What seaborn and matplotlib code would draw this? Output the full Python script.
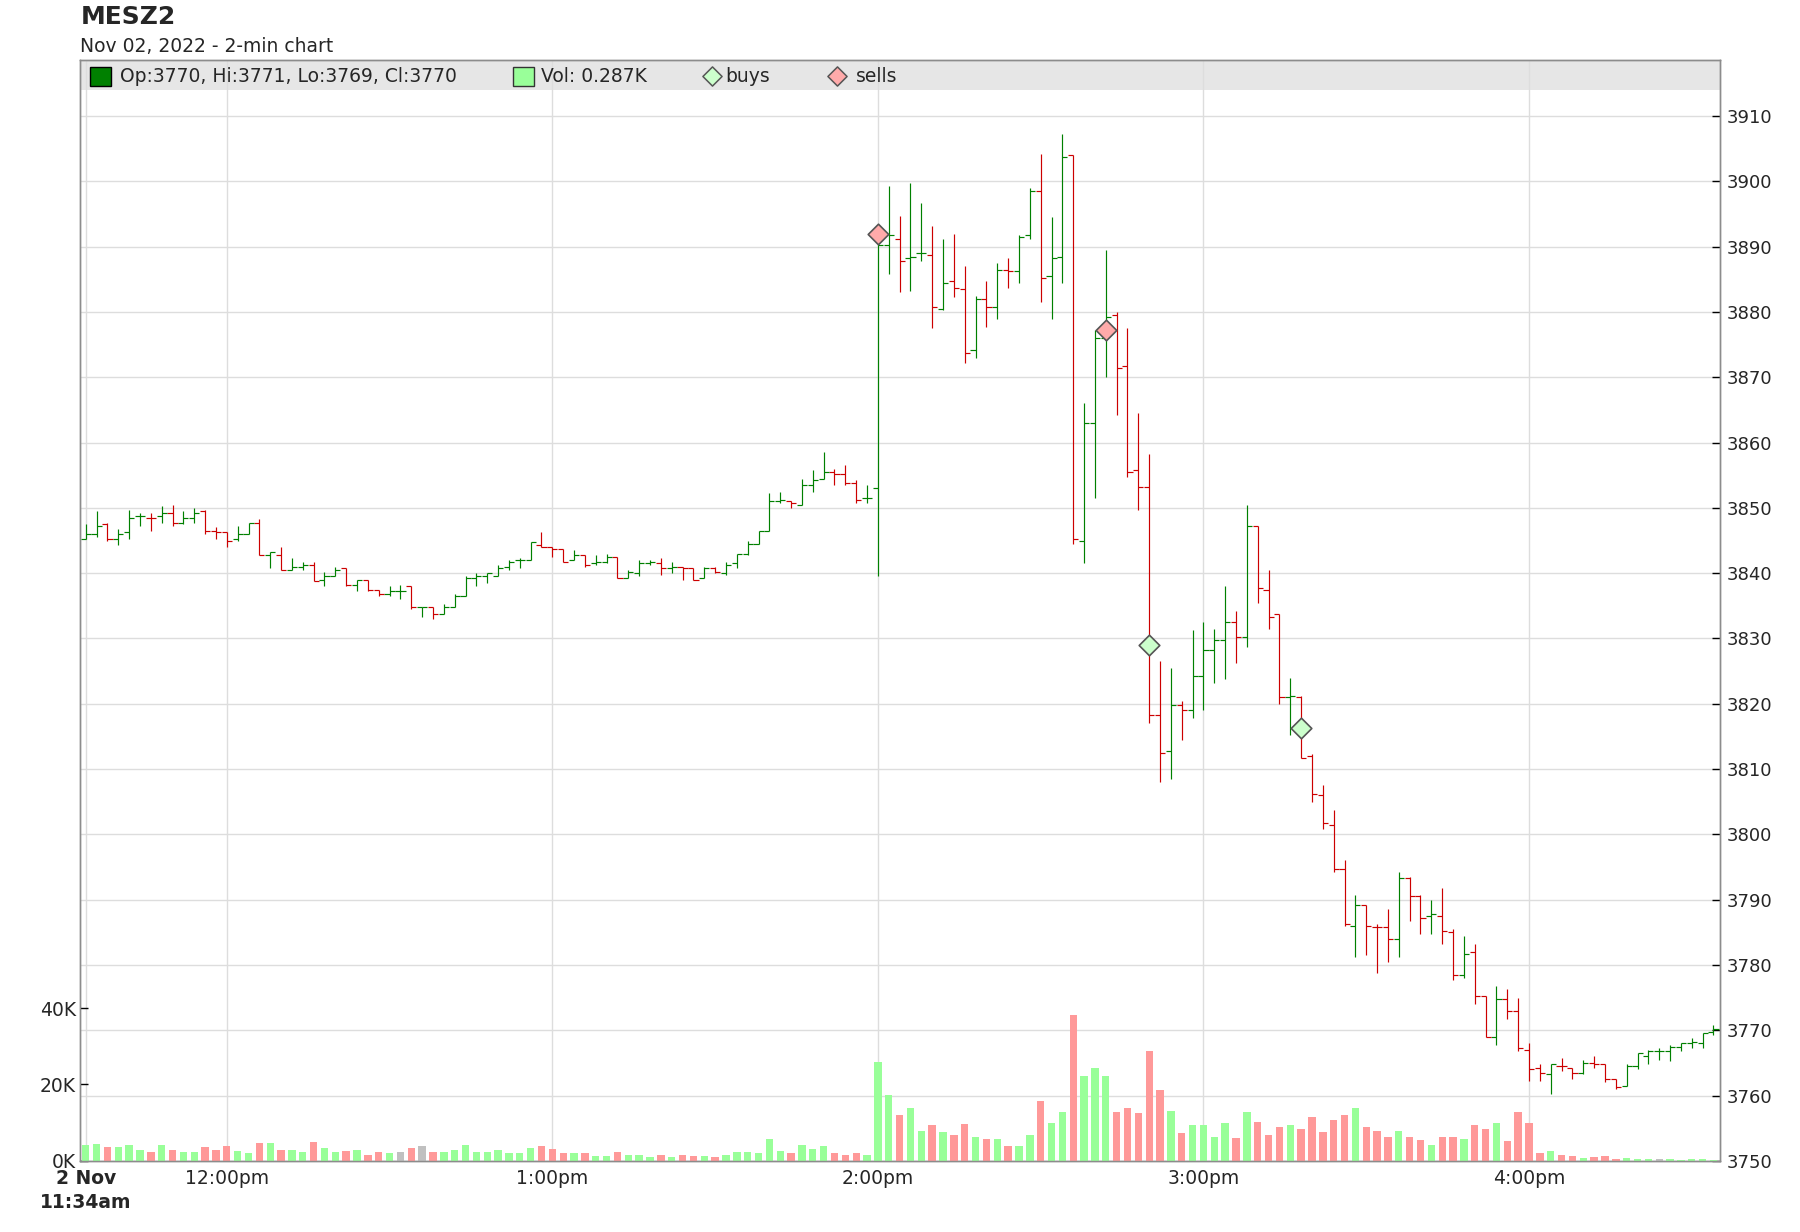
import numpy as np
import pandas as pd
import matplotlib
matplotlib.use("Agg")
import matplotlib.pyplot as plt
import seaborn as sns
from matplotlib.patches import Rectangle

# ---------------- data ----------------
opens = [3845.25, 3846, 3847.5, 3845.25, 3846.25, 3848.75, 3848.5, 3848.75, 3849.25, 3847.75,
         3848.5, 3849.5, 3846.5, 3846.25, 3845.25, 3846, 3847.75, 3842.75, 3842.75, 3840.5,
         3841, 3841.25, 3839, 3839.5, 3840.75, 3838.25, 3839, 3837.5, 3836.75, 3837.25,
         3838, 3834.75, 3834.75, 3833.75, 3834.75, 3836.5, 3839.25, 3839.5, 3839.5, 3841,
         3842, 3842, 3844.25, 3844, 3843.75, 3842, 3842.75, 3841.5, 3841.75, 3842.5,
         3839.25, 3840, 3841.5, 3841.5, 3840.75, 3841, 3840.75, 3839.25, 3840.75, 3840,
         3841.5, 3843, 3844.5, 3846.5, 3851, 3851, 3850.5, 3853.5, 3854.5, 3855.5,
         3855.25, 3853.75, 3851.5, 3853, 3890.25, 3891.25, 3888.25, 3889, 3888.75, 3880.5,
         3884.75, 3883.5, 3874.25, 3882, 3880.75, 3886.5, 3886.25, 3891.75, 3898.5, 3885.5,
         3888.5, 3904, 3845, 3863, 3876, 3879.5, 3871.75, 3855.75, 3853.25, 3818.25,
         3812.75, 3819.75, 3819, 3824.25, 3828.25, 3829.75, 3832.5, 3830.25, 3847.25, 3837.5,
         3833.75, 3821, 3821, 3812, 3806, 3801.5, 3794.75, 3786, 3789.25, 3785.75,
         3785.75, 3784, 3793.25, 3790.5, 3787.5, 3787.5, 3785, 3778.5, 3782, 3775.25,
         3769, 3774.75, 3773, 3767, 3764.25, 3763.25, 3764.5, 3764.25, 3763.5, 3765,
         3764.75, 3762.5, 3761.5, 3764.5, 3766, 3766.75, 3766.75, 3767.5, 3768, 3768,
         3769.75]
highs = [3847.5, 3849.5, 3847.75, 3846.75, 3849.75, 3849.25, 3849.25, 3850.25, 3850.5, 3849.5,
         3850, 3849.75, 3847, 3846.25, 3847.25, 3847.75, 3848.25, 3843.25, 3844, 3842.25,
         3841.75, 3841.75, 3840.25, 3841, 3840.75, 3839, 3839, 3837.5, 3838, 3838.25,
         3838, 3834.75, 3834.75, 3835.25, 3836.75, 3839.5, 3840, 3840, 3841.25, 3842,
         3842.25, 3844.75, 3846.25, 3844, 3843.75, 3843.5, 3842.75, 3842.75, 3843, 3842.5,
         3840.5, 3842, 3842, 3842.25, 3841.75, 3841, 3840.75, 3841, 3841, 3841.75,
         3843, 3845, 3846.5, 3852.25, 3852.5, 3851, 3854.5, 3855.75, 3858.5, 3856,
         3856.5, 3854.25, 3853.5, 3892.5, 3899.25, 3894.75, 3899.75, 3896.75, 3893.25, 3891.25,
         3892, 3887, 3882.5, 3884.75, 3887.5, 3888.25, 3891.75, 3899, 3904.25, 3894.5,
         3907.25, 3904, 3866, 3877.25, 3889.5, 3880, 3877.5, 3864.5, 3858.25, 3826.5,
         3825.5, 3820.5, 3831.25, 3832.5, 3831.5, 3838, 3834.25, 3850.5, 3847.25, 3840.5,
         3833.75, 3824, 3821.25, 3812.25, 3807.5, 3803.75, 3796, 3790.75, 3789.25, 3786.25,
         3788.5, 3794.25, 3793.5, 3790.75, 3790, 3791.75, 3785.5, 3784.5, 3783.25, 3775.25,
         3776.75, 3776.25, 3775, 3768, 3764.75, 3764.75, 3765.75, 3764.25, 3765.5, 3766,
         3764.75, 3762.5, 3764.75, 3766.5, 3767, 3767.25, 3767.75, 3768, 3768.75, 3769.5,
         3770.75]
lows = [3845.25, 3845.5, 3845, 3844.25, 3845.25, 3847.25, 3846.5, 3847.75, 3847.25, 3847.5,
        3847.75, 3846, 3845.25, 3844, 3845, 3846, 3842.75, 3840.75, 3840.5, 3840.5,
        3840.5, 3838.75, 3838, 3839.5, 3838, 3837.25, 3837.25, 3836.5, 3836.5, 3836,
        3834.5, 3833.25, 3833, 3833.75, 3834.75, 3836.5, 3838, 3838.5, 3839.5, 3840.5,
        3840.75, 3842, 3844, 3842.5, 3841.75, 3842, 3841, 3841.25, 3841.5, 3839.25,
        3839.25, 3839.5, 3841.25, 3839.75, 3840, 3839, 3839, 3839.25, 3840, 3839.75,
        3840.75, 3842.75, 3844.5, 3846.5, 3850.75, 3850, 3850.5, 3852.5, 3854.5, 3853.5,
        3853.5, 3850.75, 3850.75, 3839.5, 3885.75, 3883, 3883.25, 3887.75, 3877.5, 3880.25,
        3882.25, 3872.25, 3873, 3877.75, 3879, 3883.75, 3884.5, 3891.25, 3881.5, 3879,
        3884.5, 3844.5, 3841.5, 3851.5, 3870, 3864.25, 3854.75, 3849.75, 3817, 3808,
        3808.5, 3814.5, 3817.75, 3819, 3823.25, 3823.75, 3826.25, 3828.75, 3835.5, 3831.5,
        3820, 3815.25, 3811.75, 3805, 3800.75, 3794.25, 3786, 3781.25, 3781.5, 3778.75,
        3780.5, 3781.25, 3786.75, 3784.75, 3784.75, 3783.25, 3777.75, 3778, 3774, 3769,
        3767.75, 3771.75, 3766.75, 3762.25, 3762.25, 3760.25, 3763.75, 3762.5, 3763.25, 3764.25,
        3762, 3761, 3761.5, 3764, 3764.75, 3765.5, 3765.25, 3766.75, 3767.25, 3767.25,
        3769.25]
closes = [3846, 3847.25, 3845.25, 3846, 3848.5, 3848.75, 3848.5, 3849.25, 3847.75, 3848.5,
          3849.25, 3846.5, 3846.25, 3845, 3846, 3847.75, 3842.75, 3843.25, 3840.5, 3841,
          3841.25, 3838.75, 3839.5, 3840.5, 3838.25, 3839, 3837.5, 3836.75, 3837.25, 3837.25,
          3834.75, 3834.75, 3833.75, 3834.75, 3836.5, 3839.25, 3839.5, 3840, 3840.75, 3841.75,
          3842, 3844.75, 3844, 3843.75, 3841.75, 3842.75, 3841.25, 3841.75, 3842.5, 3839.25,
          3840.25, 3841.5, 3841.75, 3840.75, 3841, 3840.75, 3839, 3840.75, 3840.25, 3841.25,
          3843, 3844.5, 3846.5, 3851, 3851.25, 3850.75, 3853.5, 3854.25, 3855.5, 3855.25,
          3853.75, 3851.25, 3851.5, 3890.25, 3891.75, 3887.75, 3888.5, 3889, 3880.75, 3884.5,
          3883.75, 3873.75, 3882, 3880.75, 3886.5, 3886.25, 3891.5, 3898.5, 3885.25, 3888.25,
          3903.75, 3845.25, 3863, 3876, 3879.25, 3871.5, 3855.5, 3853.25, 3818.25, 3812.5,
          3819.75, 3819, 3824.25, 3828.25, 3829.75, 3832.5, 3830.25, 3847.25, 3837.75, 3833.25,
          3821, 3821.25, 3811.75, 3806.25, 3801.75, 3794.75, 3786.25, 3789.25, 3786, 3785.75,
          3784, 3793.25, 3790.5, 3787.25, 3787.75, 3785.25, 3778.5, 3781.75, 3775.25, 3769,
          3774.75, 3773, 3767.25, 3764, 3763.5, 3764.75, 3764.5, 3763.5, 3765, 3764.75,
          3762.5, 3761.25, 3764.5, 3766.5, 3766.75, 3766.75, 3767.5, 3768, 3768.25, 3769.5,
          3770.25]
volumes_k = [4.19, 4.45, 3.49, 3.49, 4.19, 2.88, 2.36, 4.19, 2.88, 2.36,
             2.36, 3.49, 2.88, 3.93, 2.62, 2.10, 4.72, 4.72, 2.88, 2.88,
             2.36, 4.98, 3.41, 2.36, 2.62, 2.88, 1.57, 2.36, 2.10, 2.36,
             3.41, 3.93, 2.36, 2.36, 2.88, 4.19, 2.36, 2.36, 2.88, 2.10,
             2.10, 3.41, 3.93, 3.14, 2.10, 2.10, 2.10, 1.31, 1.31, 2.36,
             1.57, 1.57, 1.05, 1.57, 1.05, 1.57, 1.31, 1.31, 1.05, 1.57,
             2.36, 2.36, 2.10, 5.76, 2.62, 2.10, 4.19, 3.14, 3.93, 2.10,
             1.57, 2.10, 1.57, 25.9, 17.3, 12.05, 13.9, 7.86, 9.43, 7.6,
             6.81, 9.69, 6.29, 5.76, 5.76, 3.93, 3.93, 6.81, 15.7, 9.96,
             12.8, 38.25, 22.3, 24.4, 22.3, 12.8, 13.9, 12.6, 28.8, 18.6,
             13.1, 7.34, 9.43, 9.43, 6.29, 9.96, 6.03, 12.8, 10.2, 6.81,
             8.9, 9.43, 8.38, 11.5, 7.6, 10.7, 12.05, 13.9, 8.9, 7.86,
             6.29, 7.86, 6.29, 5.5, 4.19, 6.29, 6.29, 5.76, 9.43, 8.38,
             9.96, 5.24, 12.8, 9.96, 2.10, 2.62, 1.57, 1.31, 0.79, 1.05,
             1.31, 0.52, 0.79, 0.52, 0.52, 0.52, 0.52, 0.26, 0.52, 0.52,
             0.287]

sell_idx = [73, 94]
sell_price = [3892.0, 3877.25]
buy_idx = [98, 112]
buy_price = [3829.0, 3816.25]

tick_pos = [0, 13, 43, 73, 103, 133]
tick_labels = ["2 Nov\n11:34am", "12:00pm", "1:00pm", "2:00pm", "3:00pm", "4:00pm"]
price_ticks = list(range(3750, 3911, 10))
vol_ticks = [0, 20, 40]
vol_tick_labels = ["0K", "20K", "40K"]
title = "MESZ2"
subtitle = "Nov 02, 2022 - 2-min chart"

# ---------------- styling ----------------
sns.set_theme(style="white")
plt.rcParams['font.family'] = ['DejaVu Sans']

UP, DOWN = '#008000', '#cc0000'
VUP, VDOWN, VFLAT = '#99ff99', '#ff9999', '#c0c0c0'
GRID = '#dddddd'
SPINE = '#8c8c8c'

df = pd.DataFrame({'o': opens, 'h': highs, 'l': lows, 'c': closes, 'v': volumes_k})
df['x'] = np.arange(len(df))
prev = df['c'].shift(1)
df['pcol'] = np.where(prev.isna() | (df['c'] >= prev), UP, DOWN)
df['vcol'] = np.where(prev.isna() | (df['c'] > prev), VUP,
                      np.where(df['c'] == prev, VFLAT, VDOWN))

W, H = 1800, 1232
fig = plt.figure(figsize=(W / 100, H / 100), dpi=100)
left_px, right_px, top_px, bot_px = 80.3, 1720, 60, 1160.8
ax = fig.add_axes([left_px / W, 1 - bot_px / H, (right_px - left_px) / W, (bot_px - top_px) / H])
axv = ax.twinx()

# price axis
ax.set_xlim(-0.5, 150.6)
ax.set_ylim(3750, 3918.6)
ax.set_axisbelow(True)
ax.yaxis.tick_right()
ax.set_yticks(price_ticks)
ax.set_yticklabels([str(p) for p in price_ticks])
ax.set_xticks(tick_pos)
ax.set_xticklabels(tick_labels)
ax.grid(True, color=GRID, linewidth=1.0)
ax.tick_params(axis='y', which='both', direction='in', length=6, width=1, color='black',
               labelsize=13, pad=4.8, right=True, left=False, labelright=True, labelleft=False)
ax.tick_params(axis='x', direction='out', length=3, width=1, color='black', labelsize=13.5, pad=3)
for i, lab in enumerate(ax.get_xticklabels()):
    if i == 0:
        lab.set_fontweight('bold')
        lab.set_linespacing(1.3)

# band
ax.add_patch(Rectangle((0, 1 - 30 / 1100.8), 1, 30 / 1100.8, transform=ax.transAxes,
                       facecolor='#e6e6e6', edgecolor='none', zorder=0.4))

# OHLC bars
tk = 0.47
lw = 0.85
ax.vlines(df['x'], df['l'], df['h'], colors=df['pcol'], linewidth=lw, zorder=3)
ax.hlines(df['o'], df['x'] - tk, df['x'], colors=df['pcol'], linewidth=lw, zorder=3)
ax.hlines(df['c'], df['x'], df['x'] + tk, colors=df['pcol'], linewidth=lw, zorder=3)

# volume axis
axv.set_ylim(0, 288.2)
axv.bar(df['x'], df['v'], width=0.68, color=df['vcol'], linewidth=0, zorder=2)
axv.yaxis.tick_left()
axv.set_yticks(vol_ticks)
axv.set_yticklabels(vol_tick_labels)
axv.tick_params(axis='y', direction='in', length=6, width=1, color='black', labelsize=13.5, pad=3.2,
                left=True, right=False, labelleft=True, labelright=False)
axv.grid(False)

# buy / sell markers
sns.scatterplot(x=sell_idx, y=sell_price, ax=ax, marker='D', s=110, color='#ffaaaa',
                edgecolor='#555555', linewidth=1.2, zorder=6, legend=False)
sns.scatterplot(x=buy_idx, y=buy_price, ax=ax, marker='D', s=110, color='#ccffcc',
                edgecolor='#555555', linewidth=1.2, zorder=6, legend=False)

for a in (ax, axv):
    for s in a.spines.values():
        s.set_color(SPINE)
        s.set_linewidth(1)

# titles
fig.text(80.4 / W, 1 - 16.6 / H, title, fontsize=18, fontweight='bold', va='center', ha='left')
fig.text(80.4 / W, 1 - 46 / H, subtitle, fontsize=13.5, va='center', ha='left')

# legend in band
def fx(px):
    return (px - left_px) / (right_px - left_px)

yc = (bot_px - 76.5) / (bot_px - top_px)
sq_h = 19 / (bot_px - top_px)
last = df.iloc[-1]
ohlc_txt = "Op:{:.0f}, Hi:{:.0f}, Lo:{:.0f}, Cl:{:.0f}".format(last['o'], last['h'], last['l'], last['c'])
vol_txt = "Vol: {:.3f}K".format(last['v'])
axv.add_patch(Rectangle((fx(90), yc - sq_h / 2), fx(110.5) - fx(90), sq_h, transform=axv.transAxes,
                        facecolor=UP, edgecolor='black', linewidth=1, zorder=7, clip_on=False))
axv.text(fx(119.5), yc, ohlc_txt, transform=axv.transAxes, fontsize=13.5, va='center', ha='left', zorder=7)
axv.add_patch(Rectangle((fx(513), yc - sq_h / 2), fx(534) - fx(513), sq_h, transform=axv.transAxes,
                        facecolor=VUP, edgecolor='#333333', linewidth=1, zorder=7, clip_on=False))
axv.text(fx(541), yc, vol_txt, transform=axv.transAxes, fontsize=13.5, va='center', ha='left', zorder=7)
axv.scatter([fx(712)], [yc], transform=axv.transAxes, marker='D', s=95, color='#ccffcc',
            edgecolor='#555555', linewidth=1.1, zorder=7, clip_on=False)
axv.text(fx(725), yc, "buys", transform=axv.transAxes, fontsize=13.5, va='center', ha='left', zorder=7)
axv.scatter([fx(837)], [yc], transform=axv.transAxes, marker='D', s=95, color='#ffaaaa',
            edgecolor='#555555', linewidth=1.1, zorder=7, clip_on=False)
axv.text(fx(856), yc, "sells", transform=axv.transAxes, fontsize=13.5, va='center', ha='left', zorder=7)

fig.savefig("out.png", dpi=100)
